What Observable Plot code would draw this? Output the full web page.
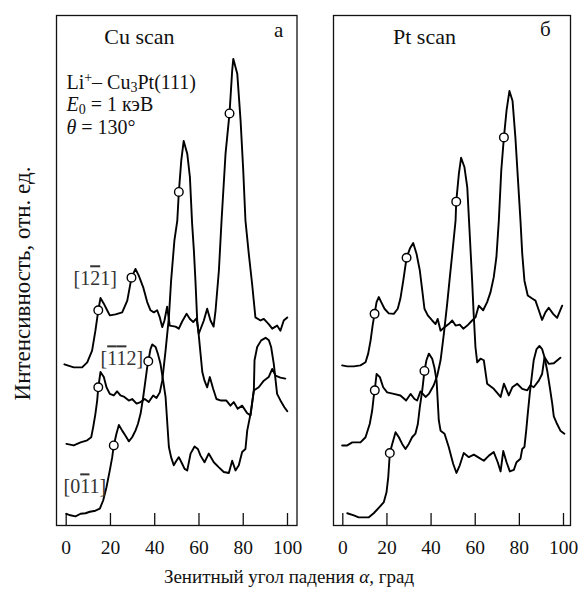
<!DOCTYPE html>
<html><head><meta charset="utf-8">
<script src="https://cdn.jsdelivr.net/npm/d3@7"></script>
<script src="https://cdn.jsdelivr.net/npm/@observablehq/plot@0.6"></script>
<style>
html,body{margin:0;padding:0;background:#fff;}
#wrap{position:relative;width:578px;height:594px;font-family:'Liberation Serif','DejaVu Serif',serif;}
#wrap svg{position:absolute;top:0;}
#xlab{position:absolute;left:0;width:578px;top:566px;text-align:center;font-size:19px;color:#111;}
</style></head>
<body><div id="wrap"><div id="xlab">Зенитный угол падения <i>α</i>, град</div></div>
<script>
// ---- data: [angle (deg), intensity (rel. units)] ----
const xTicks = [0, 20, 40, 60, 80, 100];
const curveNames = ["[1-21]", "[-1-12]", "[0-11]"];

const cu121 = [[-0.8,31.6],[3.4,31.0],[7.2,31.0],[9.5,32.0],[11.7,34.3],[13.2,38.2],[14.5,42.2],[15.5,44.6],[17.0,43.5],[18.5,42.2],[19.7,41.2],[22.3,41.4],[25.3,41.8],[27.6,44.1],[29.5,48.6],[31.3,50.3],[32.8,49.0],[34.8,46.7],[36.6,43.8],[38.1,42.2],[39.6,41.8],[41.1,42.2],[42.3,40.8],[43.4,38.9],[44.4,40.2],[45.6,42.9],[46.8,39.2],[49.4,39.0],[50.9,38.6],[52.4,40.0],[54.4,41.5],[55.9,40.5],[57.4,39.9],[58.9,40.6],[59.9,37.6],[62.2,40.2],[63.7,42.5],[65.2,40.2],[66.6,39.0],[67.5,42.2],[69.0,50.0],[70.2,59.8],[72.0,72.9],[73.8,80.8],[75.0,89.2],[75.5,91.5],[77.3,88.6],[78.8,79.4],[80.0,69.6],[81.0,59.8],[82.5,53.3],[84.0,47.4],[85.5,40.8],[87.8,40.2],[89.3,40.5],[91.5,39.5],[93.1,38.6],[95.3,39.2],[96.8,38.2],[98.3,40.2],[99.9,40.8]];
const cu112 = [[0.1,16.0],[3.4,15.7],[6.5,16.3],[9.5,16.7],[11.3,17.3],[12.2,19.3],[13.2,21.9],[14.0,24.5],[14.5,27.1],[15.5,30.1],[17.0,29.1],[18.2,27.1],[19.7,25.8],[21.5,25.5],[23.0,26.3],[24.5,25.5],[26.3,25.2],[28.3,24.5],[29.8,24.8],[31.8,23.9],[33.6,24.2],[35.5,24.8],[37.3,24.2],[39.3,25.5],[40.8,25.0],[42.3,26.1],[43.4,28.4],[44.9,34.3],[46.4,40.8],[47.4,48.0],[48.9,55.9],[50.2,59.8],[50.9,65.4],[52.0,71.6],[53.1,75.4],[54.7,72.9],[55.9,68.3],[56.9,59.2],[57.7,53.9],[58.4,48.0],[59.2,40.2],[59.9,37.3],[60.7,33.7],[61.5,30.1],[62.5,28.4],[63.7,27.1],[64.9,29.1],[66.4,26.8],[67.9,24.8],[70.0,24.5],[72.4,24.5],[74.2,23.5],[75.7,24.2],[77.5,22.9],[79.5,23.5],[81.8,22.0],[83.3,21.6],[84.8,26.5],[87.0,27.1],[89.3,28.4],[91.5,29.1],[93.1,30.7],[94.6,29.4],[96.8,29.0],[99.0,28.8]];
const cu011 = [[0.1,2.3],[1.9,2.0],[4.2,1.8],[6.5,2.3],[8.7,2.4],[10.7,2.7],[13.2,2.9],[15.2,3.3],[16.7,4.9],[18.2,7.5],[19.7,10.8],[20.8,13.4],[21.5,15.7],[22.7,18.0],[23.8,19.7],[25.3,18.6],[26.8,17.6],[28.3,16.5],[29.8,17.3],[31.3,18.6],[32.4,19.9],[33.6,21.9],[34.8,25.2],[35.8,28.4],[36.6,31.0],[37.1,32.2],[38.1,34.6],[38.9,35.5],[40.4,35.0],[41.4,33.7],[42.6,31.7],[43.8,28.4],[44.9,25.2],[45.6,20.6],[46.4,15.4],[47.4,13.4],[48.6,11.8],[49.8,12.7],[50.9,13.4],[52.4,12.1],[53.5,11.1],[54.7,10.8],[56.2,14.1],[58.0,15.5],[59.5,15.0],[60.7,13.7],[62.5,12.4],[64.4,14.1],[66.7,12.4],[69.0,11.4],[71.2,10.5],[73.5,10.3],[75.0,12.7],[76.5,10.8],[78.0,11.8],[79.5,14.4],[81.0,15.0],[81.8,18.6],[83.3,21.9],[84.8,26.5],[85.1,32.4],[86.3,35.0],[88.1,36.3],[90.1,36.8],[91.6,36.3],[92.6,35.0],[93.8,31.7],[95.3,25.8],[97.2,24.2],[98.6,23.2],[99.9,22.4]];

const pt121 = [[-0.3,31.4],[2.0,31.2],[5.0,31.2],[8.0,31.4],[10.3,32.0],[11.5,33.7],[12.6,36.3],[13.6,39.5],[14.4,41.5],[15.3,43.8],[16.3,44.8],[17.4,43.8],[18.9,42.5],[20.8,41.6],[23.1,41.5],[24.9,42.5],[26.1,44.5],[27.4,48.0],[28.9,52.5],[30.4,54.3],[31.9,55.4],[33.4,53.3],[34.9,50.0],[36.0,46.1],[37.0,42.5],[38.5,41.2],[40.5,40.2],[42.0,39.5],[43.0,40.5],[44.3,38.2],[46.1,38.9],[48.0,39.5],[49.6,40.2],[51.1,39.2],[53.0,39.4],[54.6,38.6],[56.4,39.2],[58.6,40.2],[60.1,40.8],[61.6,43.1],[63.6,42.2],[65.4,43.8],[66.9,45.7],[68.4,48.7],[69.6,52.6],[70.7,59.8],[71.8,69.6],[73.0,76.1],[74.2,81.4],[75.5,85.2],[76.9,83.3],[78.2,76.1],[79.3,68.3],[80.5,59.8],[81.3,53.3],[82.3,48.0],[83.8,45.1],[85.8,44.5],[87.3,44.1],[88.8,42.2],[90.3,40.3],[91.8,41.8],[93.3,42.7],[95.3,41.5],[97.1,40.7],[99.4,43.1]];
const pt112 = [[-0.3,15.7],[2.0,15.7],[4.3,16.3],[8.0,16.3],[10.3,17.3],[12.2,19.9],[13.3,22.5],[14.0,25.2],[14.5,26.5],[14.8,27.8],[15.3,29.7],[16.8,29.1],[18.3,27.1],[20.1,26.1],[23.1,25.8],[26.1,25.5],[28.7,24.5],[30.7,25.8],[32.5,24.8],[33.7,24.5],[35.2,26.3],[37.5,25.2],[39.0,25.8],[41.2,27.5],[42.8,29.4],[44.3,32.4],[45.8,37.6],[47.3,43.5],[48.5,48.7],[49.6,53.3],[51.1,59.8],[51.4,63.5],[52.6,69.0],[53.6,72.1],[55.1,70.3],[56.4,66.3],[57.5,57.2],[58.6,48.0],[59.3,41.5],[60.1,35.0],[60.9,32.0],[62.4,32.7],[63.9,32.4],[65.4,27.8],[68.4,26.8],[71.5,25.2],[73.0,27.8],[75.2,25.5],[76.8,27.1],[79.0,27.8],[81.3,26.8],[83.6,26.5],[85.0,27.5],[86.5,27.1],[88.8,28.4],[90.3,29.7],[91.4,33.0],[93.3,31.7],[95.6,31.8],[98.6,32.9]];
const pt011 = [[2.0,2.4],[5.0,2.0],[7.2,1.6],[11.8,1.6],[14.0,2.4],[16.8,3.7],[18.6,4.6],[19.8,6.5],[20.6,9.5],[21.3,14.2],[22.4,16.0],[23.9,18.3],[25.4,17.3],[26.9,16.0],[28.4,15.0],[29.9,16.0],[31.4,17.3],[32.9,18.0],[34.0,19.9],[34.9,23.2],[36.0,26.5],[37.0,30.3],[37.9,32.4],[39.0,33.7],[40.5,32.7],[41.5,31.0],[42.5,28.4],[43.0,24.5],[43.5,20.6],[44.3,18.6],[46.1,18.0],[48.0,15.4],[50.0,12.1],[51.5,10.3],[53.0,11.8],[54.8,14.2],[57.1,13.4],[59.4,13.9],[61.6,13.3],[63.9,12.7],[66.2,13.7],[68.4,14.4],[70.2,12.4],[71.5,10.6],[72.7,14.6],[74.2,12.4],[75.7,10.6],[77.5,10.9],[78.7,12.4],[80.5,13.1],[81.3,15.0],[82.3,15.4],[83.1,18.6],[83.8,21.9],[84.7,25.8],[85.4,28.4],[86.5,32.4],[87.8,34.6],[89.1,35.2],[90.3,34.6],[91.4,33.0],[92.6,30.4],[93.8,27.1],[94.9,23.9],[95.6,21.4],[97.1,19.9],[98.6,18.6],[100.4,18.0]];

// marked points (open circles)
const cuMarks = [[14.5,42.2],[29.5,48.6],[73.8,80.8],[14.5,27.1],[50.9,65.4],[21.5,15.7],[37.1,32.2]];
const ptMarks = [[14.4,41.5],[28.9,52.5],[73.0,76.1],[14.5,26.5],[51.4,63.5],[21.3,14.2],[37.0,30.3]];

// text annotations: [angle, intensity, text]
const cuTitle = [33.1, 94.5, "Cu scan"];
const ptTitle = [37.0, 94.5, "Pt scan"];
const cuLetter = [96.0, 95.7, "а"];
const ptLetter = [91.8, 95.9, "б"];
const condLines = [[0.1, 85.6, "Li+– Cu3Pt(111)"], [0.1, 81.2, "E0 = 1 кэВ"], [0.1, 76.7, "θ = 130°"]];
const labelPos = [[3.3, 47.1], [15.5, 31.4], [-1.2, 6.3]];
const yLabel = "Интенсивность, отн. ед.";

function rows(curves) {
  return curves.flatMap((c, i) => c.map(([a, v]) => ({a, v, k: curveNames[i]})));
}

const font = "'Liberation Serif','DejaVu Serif',serif";

function panel({curves, marks, title, letter, extra, width, ml, mr, il, ir, yLab}) {
  const ms = [
    Plot.frame({stroke: "#111", strokeWidth: 1.3}),
    Plot.tickX(xTicks, {x: d => d, insetTop: 498, stroke: "#111", strokeWidth: 1.3}),
    Plot.axisX({ticks: xTicks, tickSize: 0, tickPadding: 15, fontSize: 19.5, label: null}),
    Plot.line(rows(curves), {x: "a", y: "v", z: "k", stroke: "#000", strokeWidth: 1.9, strokeLinejoin: "round"}),
    Plot.dot(marks, {x: d => d[0], y: d => d[1], r: 4.3, fill: "white", stroke: "#000", strokeWidth: 1.4}),
    Plot.text([title], {x: d => d[0], y: d => d[1], text: d => d[2], fontSize: 22, lineAnchor: "bottom"}),
    Plot.text([letter], {x: d => d[0], y: d => d[1], text: d => d[2], fontSize: 21, lineAnchor: "bottom"}),
    ...extra
  ];
  if (yLab) ms.push(Plot.text([yLab], {text: d => d, frameAnchor: "left", textAnchor: "middle", rotate: -90, dx: -34, dy: 13, fontSize: 23}));
  return Plot.plot({
    width, height: 594, marginLeft: ml, marginRight: mr, marginTop: 15, marginBottom: 69,
    x: {domain: [0, 100], insetLeft: il, insetRight: ir, axis: null},
    y: {domain: [0, 100], axis: null},
    style: {fontFamily: font, fontSize: "18px", background: "transparent", color: "#111", overflow: "visible"},
    marks: ms
  });
}

const cuExtra = [
  Plot.text(condLines, {x: d => d[0], y: d => d[1], text: d => d[2], fontSize: 20, textAnchor: "start", lineAnchor: "bottom"}),
  Plot.text(labelPos.map((p, i) => [...p, curveNames[i]]), {x: d => d[0], y: d => d[1], text: d => d[2], fontSize: 20, textAnchor: "start", lineAnchor: "bottom", fill: "#333"})
];

const svgA = panel({curves: [cu121, cu112, cu011], marks: cuMarks, title: cuTitle, letter: cuLetter, extra: cuExtra,
  width: 300, ml: 56, mr: 3.5, il: 9.7, ir: 9.5, yLab: yLabel});
const svgB = panel({curves: [pt121, pt112, pt011], marks: ptMarks, title: ptTitle, letter: ptLetter, extra: [],
  width: 288, ml: 43, mr: 8, il: 9.3, ir: 7});
svgA.style.left = "0px";
svgB.style.left = "290px";
const wrap = document.getElementById("wrap");
wrap.appendChild(svgA);
wrap.appendChild(svgB);

// rich text (italics, sub/superscripts, overbars)
const NS = "http://www.w3.org/2000/svg";
function enrich(svg, plain, parts) {
  svg.querySelectorAll("text").forEach(t => {
    if (t.textContent !== plain) return;
    t.textContent = "";
    for (const p of parts) {
      const s = document.createElementNS(NS, "tspan");
      s.textContent = p.t;
      if (p.it) s.setAttribute("font-style", "italic");
      if (p.dy) s.setAttribute("dy", p.dy);
      if (p.fs) s.setAttribute("font-size", p.fs);
      if (p.ov) { s.setAttribute("text-decoration", "overline"); s.style.textDecoration = "overline"; }
      t.appendChild(s);
    }
  });
}
enrich(svgA, "Li+– Cu3Pt(111)", [{t: "Li"}, {t: "+", dy: -7, fs: "14"}, {t: "– Cu", dy: 7}, {t: "3", dy: 3, fs: "14"}, {t: "Pt(111)", dy: -3}]);
enrich(svgA, "E0 = 1 кэВ", [{t: "E", it: 1}, {t: "0", dy: 3, fs: "14"}, {t: " = 1 кэВ", dy: -3}]);
enrich(svgA, "θ = 130°", [{t: "θ", it: 1}, {t: " = 130°"}]);
enrich(svgA, "[1-21]", [{t: "[1"}, {t: "2", ov: 1}, {t: "1]"}]);
enrich(svgA, "[-1-12]", [{t: "["}, {t: "1", ov: 1}, {t: "1", ov: 1}, {t: "2]"}]);
enrich(svgA, "[0-11]", [{t: "[0"}, {t: "1", ov: 1}, {t: "1]"}]);
</script></body></html>
